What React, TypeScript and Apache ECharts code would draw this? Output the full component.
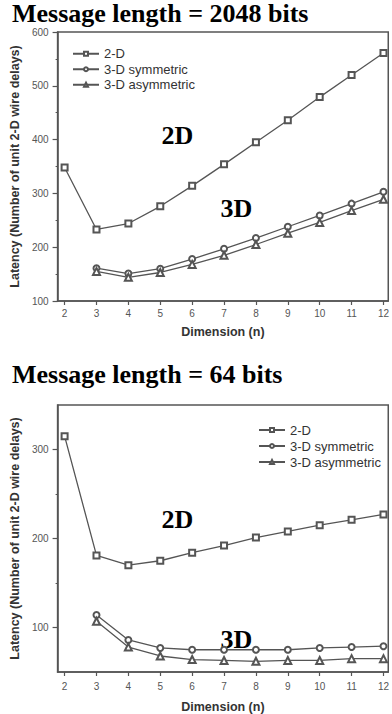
import React, { useEffect, useRef } from "react";
import * as echarts from "echarts";

const dims = [2, 3, 4, 5, 6, 7, 8, 9, 10, 11, 12];
const seriesNames = ["2-D", "3-D symmetric", "3-D asymmetric"];

// Message length = 2048 bits
const long2D = [348, 233, 244, 276, 314, 354, 395, 436, 479, 520, 561];
const long3DSym = [null, 161, 151, 160, 178, 197, 217, 238, 259, 281, 303];
const long3DAsym = [null, 155, 144, 153, 168, 185, 205, 226, 246, 268, 289];

// Message length = 64 bits
const short2D = [315, 181, 170, 175, 184, 192, 201, 208, 215, 221, 227];
const short3DSym = [null, 114, 86, 77, 75, 75, 75, 75, 77, 78, 79];
const short3DAsym = [null, 107, 78, 68, 64, 63, 62, 63, 63, 65, 65];

const titles = ["Message length = 2048 bits", "Message length = 64 bits"];
const yName = "Latency (Number of unit 2-D wire delays)";
const xName = "Dimension (n)";
const topYTicks = [100, 200, 300, 400, 500, 600];
const bottomYTicks = [100, 200, 300];
const bottomYMinor = [150, 250];

const GRAY = "#555";
const SANS = "'Liberation Sans', Arial, sans-serif";
const SERIF = "'Liberation Serif', 'Times New Roman', serif";

function pairs(vals: (number | null)[]) {
  return dims
    .map((d, i) => [d, vals[i]])
    .filter((p) => p[1] !== null);
}

const symbols = ["emptyRect", "emptyCircle", "emptyTriangle"];
const symSizes = [6, 6, 7];

export default function App() {
  const ref = useRef<HTMLDivElement>(null);
  useEffect(() => {
    if (!ref.current) return;
    const chart = echarts.init(ref.current, null, { renderer: "svg" });

    const xAxisBase = (gridIndex: number, nameGap: number, margin: number) => ({
      type: "value",
      gridIndex,
      min: 1.78,
      max: 12.15,
      name: xName,
      nameLocation: "middle",
      nameGap,
      nameTextStyle: { fontFamily: SANS, fontWeight: "bold", fontSize: 12.5, color: "#333" },
      axisLine: { show: true, lineStyle: { color: GRAY, width: 1.5 } },
      axisTick: { show: true, length: 4, customValues: dims, lineStyle: { color: GRAY, width: 1.2 } },
      axisLabel: { customValues: dims, fontSize: 10, color: GRAY, fontFamily: SANS, margin },
      splitLine: { show: false },
    });

    const yNameStyle = { fontFamily: SANS, fontWeight: "bold", fontSize: 12.5, color: "#333" };

    const lineSeries = (name: string, k: number, vals: (number | null)[], gi: number, yi: number) => ({
      type: "line",
      name,
      xAxisIndex: gi,
      yAxisIndex: yi,
      data: pairs(vals),
      symbol: symbols[k],
      symbolSize: symSizes[k],
      showAllSymbol: true,
      lineStyle: { color: GRAY, width: 1.3 },
      itemStyle: { color: GRAY, borderWidth: 1 },
    });

    const legendBase = (left: number, top: number, lh: number) => ({
      orient: "vertical",
      left,
      top,
      itemWidth: 26,
      itemHeight: 5,
      itemGap: 0,
      data: seriesNames,
      textStyle: { fontFamily: SANS, fontSize: 13, color: "#333", lineHeight: lh },
      selectedMode: false,
    });

    const bigText = (text: string, x: number, y: number, align = "center") => ({
      type: "text",
      x,
      y,
      style: {
        text,
        font: `bold 26px ${SERIF}`,
        lineHeight: 22,
        fill: "#000",
        textAlign: align,
        textVerticalAlign: "middle",
      },
    });

    chart.setOption({
      animation: false,
      backgroundColor: "#fff",
      grid: [
        { left: 55, top: 32, width: 336, height: 269, show: true, borderColor: GRAY, borderWidth: 1.5 },
        { left: 55, top: 405, width: 336, height: 268.5, show: true, borderColor: GRAY, borderWidth: 1.5 },
      ],
      xAxis: [xAxisBase(0, 24, 7), xAxisBase(1, 28, 9)],
      yAxis: [
        {
          type: "value",
          gridIndex: 0,
          position: "left",
          min: 100,
          max: 600,
          interval: 100,
          name: yName,
          nameLocation: "middle",
          nameGap: 33,
          nameTextStyle: yNameStyle,
          axisLine: { show: true, lineStyle: { color: GRAY, width: 1.5 } },
          axisTick: { show: true, length: 5, lineStyle: { color: GRAY, width: 1.2 } },
          minorTick: { show: true, splitNumber: 2, length: 2, lineStyle: { color: GRAY, width: 1 } },
          axisLabel: { customValues: topYTicks, fontSize: 10, color: GRAY, fontFamily: SANS, margin: 9 },
          splitLine: { show: false },
        },
        {
          type: "value",
          gridIndex: 1,
          position: "left",
          min: 50,
          max: 350,
          name: yName,
          nameLocation: "middle",
          nameGap: 33,
          nameTextStyle: yNameStyle,
          axisLine: { show: true, lineStyle: { color: GRAY, width: 1.5 } },
          axisTick: { show: true, length: 5, customValues: bottomYTicks, lineStyle: { color: GRAY, width: 1.2 } },
          axisLabel: { customValues: bottomYTicks, fontSize: 10, color: GRAY, fontFamily: SANS, margin: 9 },
          splitLine: { show: false },
        },
        {
          type: "value",
          gridIndex: 1,
          position: "left",
          offset: 0,
          min: 50,
          max: 350,
          axisLine: { show: false },
          axisTick: { show: true, length: 2, customValues: bottomYMinor, lineStyle: { color: GRAY, width: 1 } },
          axisLabel: { show: false },
          splitLine: { show: false },
        },
      ],
      legend: [legendBase(67, 41, 15.5), legendBase(253, 417, 16)],
      series: [
        lineSeries(seriesNames[0], 0, long2D, 0, 0),
        lineSeries(seriesNames[1], 1, long3DSym, 0, 0),
        lineSeries(seriesNames[2], 2, long3DAsym, 0, 0),
        lineSeries(seriesNames[0], 0, short2D, 1, 1),
        lineSeries(seriesNames[1], 1, short3DSym, 1, 1),
        lineSeries(seriesNames[2], 2, short3DAsym, 1, 1),
      ],
      graphic: [
        bigText(titles[0], 12, 13, "left"),
        bigText(titles[1], 12, 374, "left"),
        bigText("2D", 177.5, 135),
        bigText("3D", 236.5, 208),
        bigText("2D", 177.5, 519),
        bigText("3D", 236.5, 639),
      ],
    });
    return () => chart.dispose();
  }, []);
  return (
    <div
      ref={ref}
      style={{ position: "fixed", left: 0, top: 0, width: 392, height: 714, background: "#fff" }}
    />
  );
}
